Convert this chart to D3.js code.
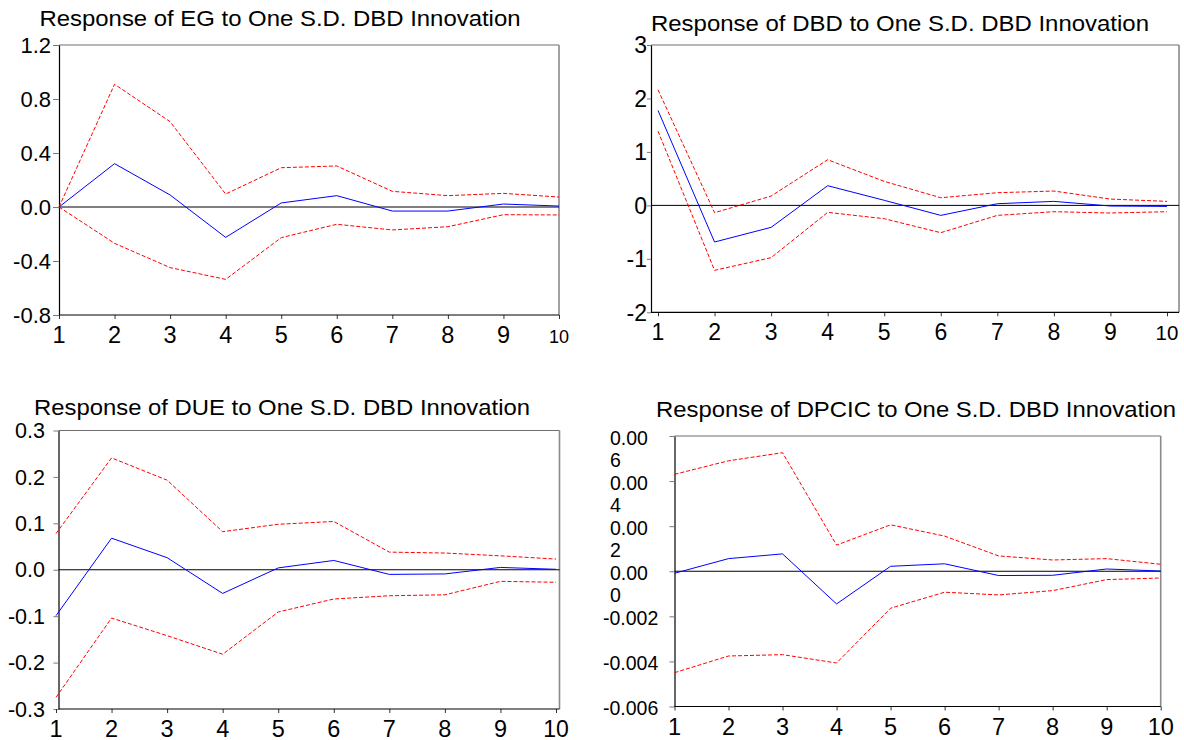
<!DOCTYPE html>
<html>
<head>
<meta charset="utf-8">
<script src="https://cdn.jsdelivr.net/npm/d3@7"></script>
<style>
  html, body { margin: 0; padding: 0; background: #fff; }
  svg { display: block; }
  text { font-family: "Liberation Sans", Arial, sans-serif; fill: #000; }
</style>
</head>
<body>
<svg id="chart" width="1184" height="740"></svg>
<script>
// ---------------- DATA ----------------
const periods = [1, 2, 3, 4, 5, 6, 7, 8, 9, 10];
const periodLabels = ["1", "2", "3", "4", "5", "6", "7", "8", "9", "10"];

const titles = [
  "Response of EG to One S.D. DBD Innovation",
  "Response of DBD to One S.D. DBD Innovation",
  "Response of DUE to One S.D. DBD Innovation",
  "Response of DPCIC to One S.D. DBD Innovation"
];

// EG
const egResponse = [0.000, 0.321, 0.089, -0.225, 0.030, 0.084, -0.030, -0.030, 0.022, 0.007];
const egUpper    = [0.000, 0.909, 0.632, 0.096, 0.291, 0.304, 0.116, 0.084, 0.101, 0.074];
const egLower    = [0.000, -0.269, -0.449, -0.536, -0.227, -0.128, -0.170, -0.146, -0.057, -0.059];
const egTicks = [-0.8, -0.4, 0.0, 0.4, 0.8, 1.2];
const egTickLabels = ["-0.8", "-0.4", "0.0", "0.4", "0.8", "1.2"];

// DBD
const dbdResponse = [1.776, -0.685, -0.411, 0.368, 0.095, -0.187, 0.031, 0.075, -0.012, -0.019];
const dbdUpper    = [2.162, -0.137, 0.174, 0.854, 0.449, 0.143, 0.237, 0.268, 0.118, 0.075];
const dbdLower    = [1.389, -1.215, -0.978, -0.131, -0.249, -0.511, -0.187, -0.118, -0.143, -0.118];
const dbdTicks = [-2, -1, 0, 1, 2, 3];
const dbdTickLabels = ["-2", "-1", "0", "1", "2", "3"];

// DUE
const dueResponse = [-0.099, 0.068, 0.026, -0.051, 0.004, 0.020, -0.010, -0.009, 0.005, 0.001];
const dueUpper    = [0.078, 0.241, 0.193, 0.082, 0.098, 0.104, 0.038, 0.036, 0.030, 0.023];
const dueLower    = [-0.275, -0.104, -0.142, -0.182, -0.091, -0.063, -0.056, -0.054, -0.025, -0.027];
const dueTicks = [-0.3, -0.2, -0.1, 0.0, 0.1, 0.2, 0.3];
const dueTickLabels = ["-0.3", "-0.2", "-0.1", "0.0", "0.1", "0.2", "0.3"];

// DPCIC
const dpcicResponse = [-0.00009, 0.00056, 0.00077, -0.00145, 0.00022, 0.00033, -0.00019, -0.00018, 0.00010, 0.00001];
const dpcicUpper    = [0.00430, 0.00490, 0.00526, 0.00116, 0.00206, 0.00156, 0.00068, 0.00050, 0.00056, 0.00031];
const dpcicLower    = [-0.00450, -0.00376, -0.00370, -0.00407, -0.00164, -0.00093, -0.00105, -0.00086, -0.00037, -0.00030];
const dpcicTicks = [-0.006, -0.004, -0.002, 0.000, 0.002, 0.004, 0.006];
// labels as they appear (wrapped in the original)
const dpcicTickLabels = [["-0.006"], ["-0.004"], ["-0.002"], ["0.00", "0"], ["0.00", "2"], ["0.00", "4"], ["0.00", "6"]];

// ---------------- LAYOUT ----------------
const svg = d3.select("#chart");

const panels = [
  { title: titles[0], resp: egResponse, up: egUpper, lo: egLower, ticks: egTicks, labels: egTickLabels,
    yd: [-0.8, 1.2], left: 59, right: 559, top: 45, bottom: 315, xr: [59, 559],
    tx: 39.5, ty: 26, tw: 481, yFont: 22, xFont: 23.5, tenFont: 18, xBase: 28, yLabEnd: 51, tickLen: 6 },
  { title: titles[1], resp: dbdResponse, up: dbdUpper, lo: dbdLower, ticks: dbdTicks, labels: dbdTickLabels,
    yd: [-2, 3], left: 651, right: 1179, top: 45, bottom: 312.3, xr: [658, 1167],
    tx: 651, ty: 31, tw: 498, yFont: 23, xFont: 23, tenFont: 20.5, xBase: 28, yLabEnd: 647, tickLen: 4 },
  { title: titles[2], resp: dueResponse, up: dueUpper, lo: dueLower, ticks: dueTicks, labels: dueTickLabels,
    yd: [-0.3, 0.3], left: 58.5, right: 559.5, top: 430.5, bottom: 709, xr: [56, 556],
    tx: 34, ty: 415, tw: 496, yFont: 21.5, xFont: 23.5, tenFont: 23, xBase: 27.5, yLabEnd: 45, tickLen: 5 },
  { title: titles[3], resp: dpcicResponse, up: dpcicUpper, lo: dpcicLower, ticks: dpcicTicks, labels: dpcicTickLabels,
    yd: [-0.006, 0.006], left: 674.5, right: 1160.7, top: 436, bottom: 706.5, xr: [674.5, 1160.7],
    tx: 656, ty: 417, tw: 520, yFont: 19.5, xFont: 23.5, tenFont: 23.5, xBase: 28.5, yLabEnd: 0, tickLen: 5, wrapped: true }
];

panels.forEach(drawPanel);

function drawPanel(p) {
  const x = d3.scaleLinear().domain([1, 10]).range(p.xr);
  const y = d3.scaleLinear().domain(p.yd).range([p.bottom, p.top]);
  const g = svg.append("g");

  // title
  g.append("text")
    .attr("x", p.tx).attr("y", p.ty)
    .attr("font-size", 21.5)
    .attr("textLength", p.tw)
    .attr("lengthAdjust", "spacingAndGlyphs")
    .text(p.title);

  // frame: top/right gray, left/bottom black
  g.append("line").attr("x1", p.left).attr("x2", p.right).attr("y1", p.top).attr("y2", p.top)
    .attr("stroke", "#6e6e6e").attr("stroke-width", 1.2);
  g.append("line").attr("x1", p.right).attr("x2", p.right).attr("y1", p.top).attr("y2", p.bottom)
    .attr("stroke", "#8a8a8a").attr("stroke-width", 1.6);

  // Y axis
  const yAxis = d3.axisLeft(y)
    .tickValues(p.ticks)
    .tickSize(p.tickLen)
    .tickSizeOuter(0)
    .tickFormat(() => "");
  const ya = g.append("g").attr("transform", `translate(${p.left},0)`).call(yAxis);
  ya.select(".domain").attr("stroke", "#000").attr("stroke-width", 1.2);
  ya.selectAll(".tick line").attr("stroke", "#7a7a7a").attr("stroke-width", 1);

  // Y tick labels
  if (p.wrapped) {
    p.ticks.forEach((t, i) => {
      const lines = p.labels[i];
      const neg = lines[0].startsWith("-");
      const tx = g.append("text")
        .attr("font-size", p.yFont)
        .attr("x", neg ? 603 : 610)
        .attr("y", y(t) + 8.5);
      lines.forEach((ln, k) => {
        tx.append("tspan").attr("x", neg ? 603 : 610).attr("dy", k === 0 ? 0 : 22.5).text(ln);
      });
    });
  } else {
    p.ticks.forEach((t, i) => {
      g.append("text")
        .attr("font-size", p.yFont)
        .attr("text-anchor", "end")
        .attr("x", p.yLabEnd)
        .attr("y", y(t))
        .attr("dy", "0.36em")
        .text(p.labels[i]);
    });
  }

  // X axis
  const xAxis = d3.axisBottom(x)
    .tickValues(periods)
    .tickSize(4)
    .tickSizeOuter(0)
    .tickFormat(() => "");
  const xa = g.append("g").attr("transform", `translate(0,${p.bottom})`).call(xAxis);
  xa.select(".domain").remove();
  xa.selectAll(".tick line").attr("stroke", "#333");
  g.append("line").attr("x1", p.left).attr("x2", p.right).attr("y1", p.bottom).attr("y2", p.bottom)
    .attr("stroke", "#000").attr("stroke-width", 1.2);

  periods.forEach((d, i) => {
    g.append("text")
      .attr("font-size", d === 10 ? p.tenFont : p.xFont)
      .attr("text-anchor", "middle")
      .attr("x", x(d))
      .attr("y", p.bottom + p.xBase)
      .text(periodLabels[i]);
  });

  // zero line
  g.append("line").attr("x1", p.left).attr("x2", p.right).attr("y1", y(0)).attr("y2", y(0))
    .attr("stroke", "#000").attr("stroke-width", 1);

  const line = d3.line().x((d, i) => x(periods[i])).y(d => y(d));

  g.append("path").datum(p.up).attr("d", line)
    .attr("fill", "none").attr("stroke", "#ff0000").attr("stroke-width", 1).attr("stroke-dasharray", "4,2");
  g.append("path").datum(p.lo).attr("d", line)
    .attr("fill", "none").attr("stroke", "#ff0000").attr("stroke-width", 1).attr("stroke-dasharray", "4,2");
  g.append("path").datum(p.resp).attr("d", line)
    .attr("fill", "none").attr("stroke", "#0000ff").attr("stroke-width", 1);
}
</script>
</body>
</html>
